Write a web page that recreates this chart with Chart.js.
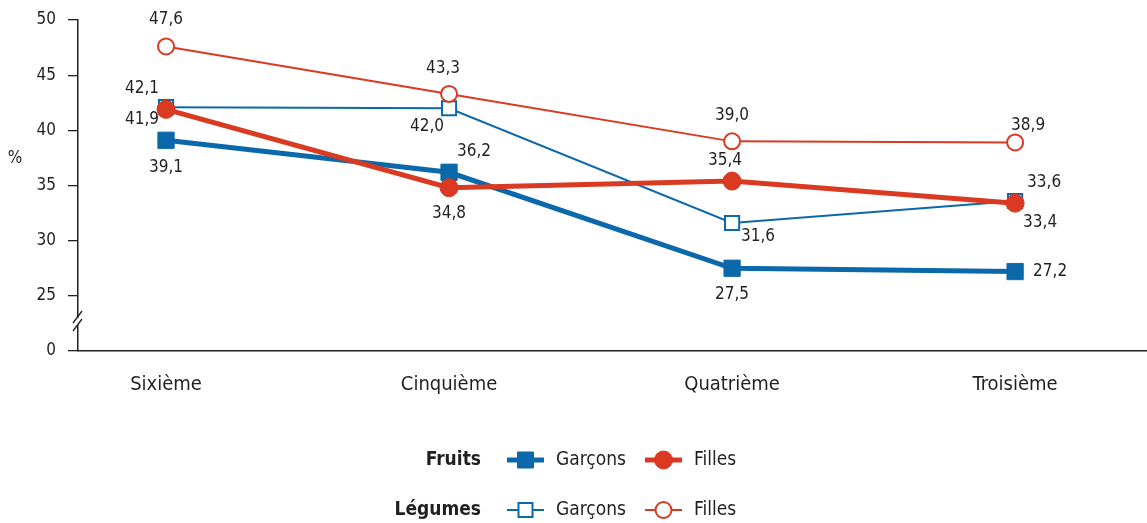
<!DOCTYPE html>
<html>
<head>
<meta charset="utf-8">
<script src="https://cdn.jsdelivr.net/npm/chart.js@4.4.0/dist/chart.umd.min.js"></script>
<style>
  html, body { margin: 0; padding: 0; background: #fff; }
</style>
</head>
<body>
<canvas id="chart" width="1147" height="523"></canvas>
<script>
// Data
const CLASSES = ['Sixième', 'Cinquième', 'Quatrième', 'Troisième'];
const FRUITS_GARCONS = [39.1, 36.2, 27.5, 27.2];
const FRUITS_FILLES = [41.9, 34.8, 35.4, 33.4];
const LEGUMES_GARCONS = [42.1, 42.0, 31.6, 33.6];
const LEGUMES_FILLES = [47.6, 43.3, 39.0, 38.9];
// axis is broken below 25: the bottom tick (20 on the scale) reads "0"
const Y_TICKS = [20, 25, 30, 35, 40, 45, 50];
const Y_TICK_LABELS = ['0', '25', '30', '35', '40', '45', '50'];

const BLUE = '#0b69ab';
const RED = '#d93a21';
const TEXT = '#231f20';
const FONT = '"Liberation Sans Narrow", "DejaVu Sans Condensed", "Roboto", sans-serif';

const fmt = v => v.toFixed(1).replace('.', ',');
const pts = arr => arr.map((y, i) => ({ x: i, y: y }));

// label offsets from the point (dx, dy), per dataset
const valueLabels = {
  id: 'valueLabels',
  afterDatasetsDraw(chart) {
    const ctx = chart.ctx;
    ctx.save();
    ctx.font = '17px ' + FONT;
    ctx.fillStyle = TEXT;
    ctx.textAlign = 'center';
    ctx.textBaseline = 'middle';
    chart.data.datasets.forEach((ds, di) => {
      const meta = chart.getDatasetMeta(di);
      meta.data.forEach((el, i) => {
        const off = ds.labelOffsets[i];
        ctx.fillText(fmt(ds.data[i].y), el.x + off[0], el.y + off[1]);
      });
    });
    ctx.restore();
  }
};

const extras = {
  id: 'extras',
  afterDraw(chart) {
    const ctx = chart.ctx;
    const x0 = chart.chartArea.left;
    ctx.save();
    // axis break
    ctx.fillStyle = '#fff';
    ctx.fillRect(x0 - 3, 318, 6, 7);
    ctx.strokeStyle = TEXT;
    ctx.lineWidth = 1.3;
    ctx.beginPath();
    ctx.moveTo(x0 - 5, 323); ctx.lineTo(x0 + 4, 311);
    ctx.moveTo(x0 - 5, 331); ctx.lineTo(x0 + 4, 319);
    ctx.stroke();

    // y title
    ctx.fillStyle = TEXT;
    ctx.font = '17px ' + FONT;
    ctx.textAlign = 'center';
    ctx.textBaseline = 'middle';
    ctx.fillText('%', 15, 159);

    // legend
    const rows = [
      { title: 'Fruits', y: 460, filled: true },
      { title: 'Légumes', y: 510, filled: false }
    ];
    rows.forEach(r => {
      ctx.font = 'bold 19px ' + FONT;
      ctx.textAlign = 'right';
      ctx.fillStyle = TEXT;
      ctx.fillText(r.title, 481, r.y);
      const items = [
        { color: BLUE, shape: 'rect', x: 507, label: 'Garçons' },
        { color: RED, shape: 'circle', x: 645, label: 'Filles' }
      ];
      items.forEach(it => {
        ctx.strokeStyle = it.color;
        ctx.lineWidth = r.filled ? 5 : 2;
        ctx.beginPath();
        ctx.moveTo(it.x, r.y); ctx.lineTo(it.x + 37, r.y);
        ctx.stroke();
        const cx = it.x + 18.5;
        ctx.beginPath();
        if (it.shape === 'rect') {
          const s = r.filled ? 16 : 14;
          ctx.rect(cx - s / 2, r.y - s / 2, s, s);
        } else {
          ctx.arc(cx, r.y, r.filled ? 9 : 8, 0, Math.PI * 2);
        }
        ctx.fillStyle = r.filled ? it.color : '#fff';
        ctx.fill();
        ctx.lineWidth = r.filled ? 1 : 2;
        ctx.stroke();
        ctx.font = '19px ' + FONT;
        ctx.textAlign = 'left';
        ctx.fillStyle = TEXT;
        ctx.fillText(it.label, it.x + 49, r.y);
      });
    });
    ctx.restore();
  }
};

new Chart(document.getElementById('chart'), {
  type: 'line',
  data: {
    datasets: [
      {
        label: 'Légumes Garçons', data: pts(LEGUMES_GARCONS), order: 4,
        borderColor: BLUE, borderWidth: 2, backgroundColor: '#fff',
        pointStyle: 'rect', pointRadius: 10, pointBorderWidth: 2,
        pointBackgroundColor: '#fff', pointBorderColor: BLUE,
        labelOffsets: [[-24, -19], [-22, 18], [26, 14], [29, -18]]
      },
      {
        label: 'Légumes Filles', data: pts(LEGUMES_FILLES), order: 3,
        borderColor: RED, borderWidth: 2, backgroundColor: '#fff',
        pointStyle: 'circle', pointRadius: 8, pointBorderWidth: 2,
        pointBackgroundColor: '#fff', pointBorderColor: RED,
        labelOffsets: [[0, -27], [-6, -25], [0, -26], [13, -17]]
      },
      {
        label: 'Fruits Garçons', data: pts(FRUITS_GARCONS), order: 2,
        borderColor: BLUE, borderWidth: 5, backgroundColor: BLUE,
        pointStyle: 'rect', pointRadius: 11.5, pointBorderWidth: 1,
        pointBackgroundColor: BLUE, pointBorderColor: BLUE,
        labelOffsets: [[0, 27], [25, -21], [0, 26], [35, 0]]
      },
      {
        label: 'Fruits Filles', data: pts(FRUITS_FILLES), order: 1,
        borderColor: RED, borderWidth: 5, backgroundColor: RED,
        pointStyle: 'circle', pointRadius: 9, pointBorderWidth: 1,
        pointBackgroundColor: RED, pointBorderColor: RED,
        labelOffsets: [[-24, 10], [0, 26], [-7, -21], [25, 19]]
      }
    ]
  },
  options: {
    responsive: false,
    animation: false,
    layout: { autoPadding: false, padding: { top: 20, right: 0, left: 0, bottom: 0 } },
    plugins: {
      legend: { display: false },
      tooltip: { enabled: false }
    },
    scales: {
      x: {
        type: 'linear',
        min: -0.311,
        max: 3.466,
        afterBuildTicks: s => { s.ticks = CLASSES.map((c, i) => ({ value: i })); },
        afterFit: s => { s.height = 172; s.paddingLeft = 0; s.paddingRight = 0; },
        grid: { display: true, drawOnChartArea: false, drawTicks: false },
        border: { display: true, color: TEXT, width: 1.5 },
        ticks: {
          callback: v => CLASSES[v],
          color: TEXT,
          font: { family: FONT, size: 20 },
          padding: 22,
          maxRotation: 0
        }
      },
      y: {
        min: 20,
        max: 50,
        afterBuildTicks: s => { s.ticks = Y_TICKS.map(v => ({ value: v })); },
        afterFit: s => { s.width = 78; s.paddingTop = 0; s.paddingBottom = 0; },
        grid: { display: true, drawOnChartArea: false, drawTicks: true, tickLength: 10, color: TEXT, lineWidth: 1.3 },
        border: { display: true, color: TEXT, width: 1.5 },
        ticks: {
          callback: v => Y_TICK_LABELS[Y_TICKS.indexOf(v)],
          color: TEXT,
          font: { family: FONT, size: 17 },
          padding: 12
        }
      }
    }
  },
  plugins: [valueLabels, extras]
});
</script>
</body>
</html>
